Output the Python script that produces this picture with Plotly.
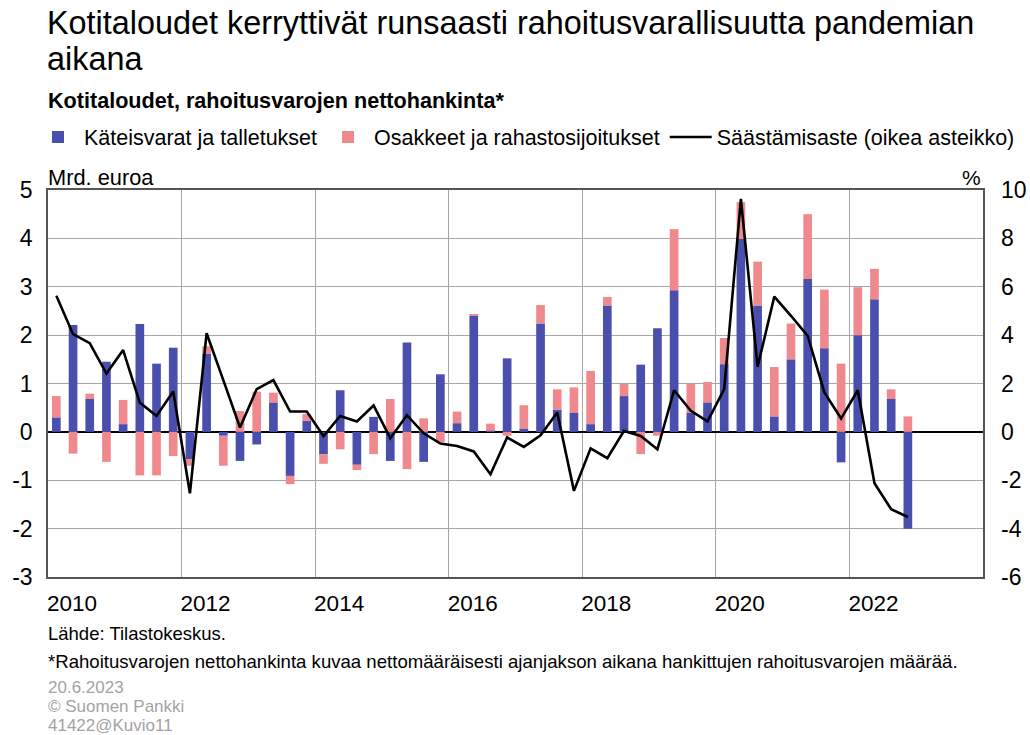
import plotly.graph_objects as go

quarters = [f"{y}Q{q}" for y in range(2010, 2023) for q in range(1, 5)]

cash = [0.30, 2.21, 0.68, 1.45, 0.16, 2.23, 1.41, 1.74,
        -0.57, 1.62, -0.08, -0.60, -0.26, 0.61, -0.91, 0.23,
        -0.46, 0.86, -0.68, 0.31, -0.60, 1.85, -0.62, 1.19,
        0.18, 2.40, 0.02, 1.52, 0.07, 2.24, 0.46, 0.39,
        0.16, 2.61, 0.74, 1.39, 2.14, 2.93, 0.40, 0.61,
        1.40, 3.99, 2.61, 0.32, 1.50, 3.16, 1.73, -0.63,
        2.00, 2.74, 0.68, -2.00]

shares = [0.44, -0.45, 0.11, -0.62, 0.50, -0.90, -0.90, -0.50,
          -0.13, 0.15, -0.62, 0.43, 0.83, 0.20, -0.17, 0.14,
          -0.20, -0.36, -0.11, -0.46, 0.68, -0.77, 0.28, -0.21,
          0.24, 0.03, 0.15, -0.08, 0.48, 0.38, 0.42, 0.53,
          1.10, 0.18, 0.25, -0.46, -0.08, 1.26, 0.59, 0.42,
          0.54, 0.76, 0.91, 1.02, 0.74, 1.34, 1.21, 1.41,
          0.99, 0.63, 0.20, 0.32]

saving = [5.63, 4.04, 3.67, 2.41, 3.38, 1.21, 0.66, 1.67,
          -2.54, 4.08, 2.14, 0.18, 1.77, 2.14, 0.84, 0.84,
          -0.17, 0.66, 0.43, 1.09, -0.26, 0.69, -0.06, -0.48,
          -0.58, -0.81, -1.75, -0.23, -0.62, -0.14, 0.80, -2.44,
          -0.68, -1.09, 0.04, -0.17, -0.72, 1.72, 0.87, 0.43,
          1.77, 9.63, 2.69, 5.59, 4.80, 3.97, 1.63, 0.55,
          1.72, -2.12, -3.20, -3.52]

year_ticks = [2010, 2012, 2014, 2016, 2018, 2020, 2022, 2024]
year_labels = ["2010", "2012", "2014", "2016", "2018", "2020", "2022", ""]

left_ticks = [-3, -2, -1, 0, 1, 2, 3, 4, 5]
left_labels = ["-3", "-2", "-1", "0", "1", "2", "3", "4", "5"]
right_ticks = [-6, -4, -2, 0, 2, 4, 6, 8, 10]
right_labels = ["-6", "-4", "-2", "0", "2", "4", "6", "8", "10"]

# quarter centre positions on a continuous year axis
xpos = [int(s[:4]) + (int(s[-1]) - 0.5) / 4 for s in quarters]

BLUE = "#4a4fae"
PINK = "#f0898e"
FONT = "Liberation Sans, Arial, sans-serif"

L, R, T, B = 48, 47, 190, 158
PW, PH = 1030 - L - R, 735 - T - B

fig = go.Figure()
fig.add_trace(go.Bar(x=xpos, y=cash, name="Käteisvarat ja talletukset",
                     marker=dict(color=BLUE, line=dict(width=0)), width=0.13))
fig.add_trace(go.Bar(x=xpos, y=shares, name="Osakkeet ja rahastosijoitukset",
                     marker=dict(color=PINK, line=dict(width=0)), width=0.13))
fig.add_trace(go.Scatter(x=xpos, y=saving, name="Säästämisaste (oikea asteikko)",
                         mode="lines", line=dict(color="black", width=2.6),
                         yaxis="y2"))

fig.update_layout(
    width=1030, height=735,
    barmode="relative",
    paper_bgcolor="white", plot_bgcolor="white",
    font=dict(family=FONT, color="black", size=21),
    margin=dict(l=L, r=R, t=T, b=B),
    showlegend=True,
    legend=dict(orientation="h", x=(32 - L) / PW, xanchor="left",
                y=1 + (190 - 137) / PH, yanchor="middle",
                font=dict(size=21.5, family=FONT), itemwidth=42,
                borderwidth=0, bgcolor="rgba(0,0,0,0)"),
    xaxis=dict(range=[2010, 2024], tickvals=year_ticks, ticktext=year_labels,
               showgrid=True, gridcolor="#a6a6a6", gridwidth=1.2,
               showline=True, linecolor="#555555", linewidth=1.5, mirror=True,
               ticks="", ticklabelshift=24, ticklabelstandoff=5,
               tickfont=dict(size=22.5), zeroline=False, automargin=False),
    yaxis=dict(range=[-3, 5], tickvals=left_ticks, ticktext=left_labels,
               showgrid=True, gridcolor="#a6a6a6",
               gridwidth=1.2, zeroline=True, zerolinecolor="black", zerolinewidth=1.5,
               showline=True, linecolor="#555555", linewidth=1.5, mirror=True,
               ticks="", ticklabelstandoff=9, tickfont=dict(size=23),
               automargin=False),
    yaxis2=dict(range=[-6, 10], tickvals=right_ticks, ticktext=right_labels,
                overlaying="y", side="right",
                showgrid=False, zeroline=False, showline=False,
                ticks="", ticklabelstandoff=17, tickfont=dict(size=23),
                automargin=False),
)

# (text, left x px, centre y px, font size, colour)
texts = [
    ("Kotitaloudet kerryttivät runsaasti rahoitusvarallisuutta pandemian", 46, 23, 32.4, "black"),
    ("aikana", 46, 59, 32.4, "black"),
    ("<b>Kotitaloudet, rahoitusvarojen nettohankinta*</b>", 47, 100, 21.6, "black"),
    ("Mrd. euroa", 47, 178, 21.8, "black"),
    ("Lähde: Tilastokeskus.", 47, 633, 18.5, "black"),
    ("*Rahoitusvarojen nettohankinta kuvaa nettomääräisesti ajanjakson aikana hankittujen rahoitusvarojen määrää.",
     47, 661, 18.6, "black"),
    ("20.6.2023", 47, 687, 17, "#a3a3a3"),
    ("© Suomen Pankki", 47, 706, 17, "#a3a3a3"),
    ("41422@Kuvio11", 47, 725, 17, "#a3a3a3"),
]
for txt, x, y, size, col in texts:
    fig.add_annotation(xref="paper", yref="paper", x=(x - L) / PW,
                       y=1 - (y - T) / PH, text=txt, showarrow=False,
                       xanchor="left", yanchor="middle", align="left",
                       borderpad=0, font=dict(size=size, color=col))
fig.add_annotation(xref="paper", yref="paper", x=(982 - L) / PW,
                   y=1 - (178 - T) / PH, text="%", showarrow=False,
                   xanchor="right", yanchor="middle", borderpad=0,
                   font=dict(size=21))

fig.write_html("out.html", config={"displayModeBar": False},
               post_script="document.body.style.margin='0';document.body.style.padding='0';")
